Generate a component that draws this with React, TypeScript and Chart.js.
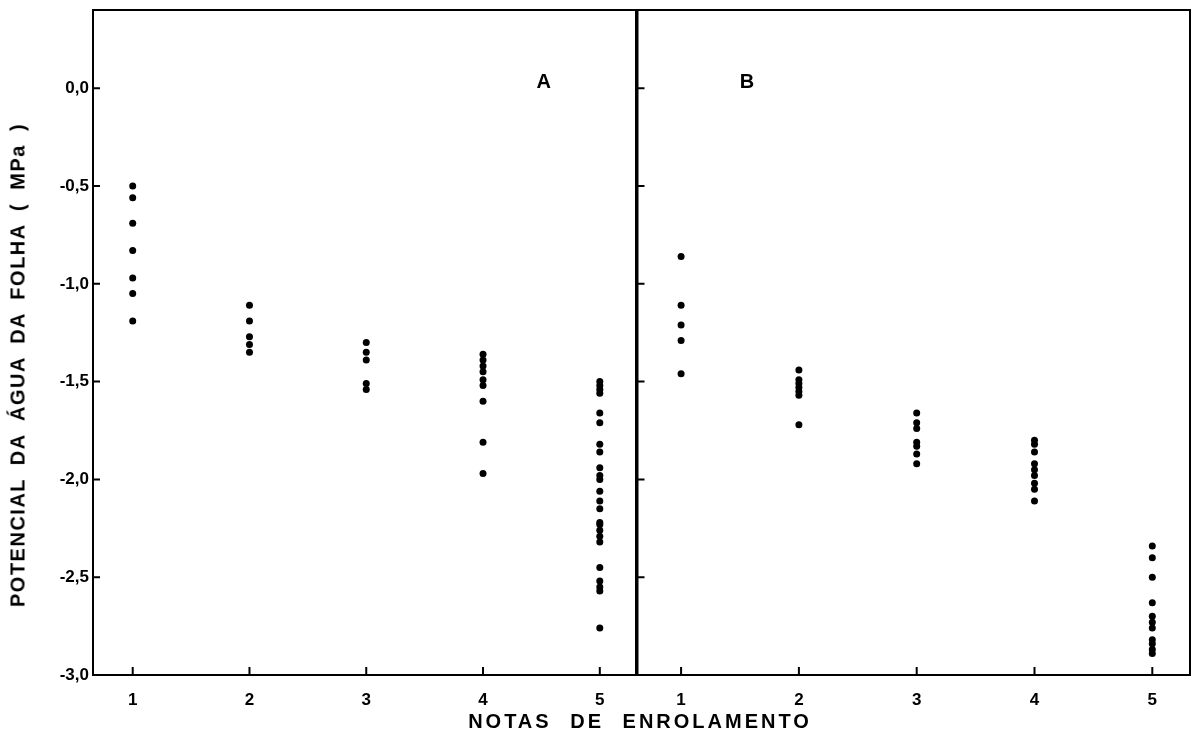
import React, { useEffect, useRef } from "react";
import { Chart, registerables } from "chart.js";

Chart.register(...registerables);

// Notas de enrolamento (x categories)
const notas = [1, 2, 3, 4, 5];
const yTickValues = [0, -0.5, -1.0, -1.5, -2.0, -2.5, -3.0];

// Panel A: leaf water potential (MPa) per rolling score
const a1 = [-0.50, -0.56, -0.69, -0.83, -0.97, -1.05, -1.19];
const a2 = [-1.11, -1.19, -1.27, -1.31, -1.35];
const a3 = [-1.30, -1.35, -1.39, -1.51, -1.54];
const a4 = [-1.36, -1.39, -1.42, -1.45, -1.49, -1.52, -1.60, -1.81, -1.97];
const a5 = [-1.50, -1.52, -1.54, -1.56, -1.66, -1.71, -1.82, -1.86, -1.94, -1.98, -2.00, -2.06, -2.11, -2.15, -2.22, -2.23, -2.26, -2.29, -2.32, -2.45, -2.52, -2.55, -2.57, -2.76];

// Panel B
const b1 = [-0.86, -1.11, -1.21, -1.29, -1.46];
const b2 = [-1.44, -1.49, -1.51, -1.53, -1.55, -1.57, -1.72];
const b3 = [-1.66, -1.71, -1.74, -1.81, -1.83, -1.87, -1.92];
const b4 = [-1.80, -1.82, -1.86, -1.92, -1.95, -1.98, -2.02, -2.05, -2.11];
const b5 = [-2.34, -2.40, -2.50, -2.63, -2.70, -2.73, -2.76, -2.82, -2.84, -2.87, -2.89];

const seriesA = [a1, a2, a3, a4, a5];
const seriesB = [b1, b2, b3, b4, b5];

const FONT = '"Liberation Sans", Arial, sans-serif';

function toPoints(groups: number[][]) {
  const pts: { x: number; y: number }[] = [];
  groups.forEach((vals, i) => vals.forEach((v) => pts.push({ x: notas[i], y: v })));
  return pts;
}

const fmt = (v: number) => {
  if (Math.abs(v) < 1e-9) return "0,0";
  return v.toFixed(1).replace(".", ",");
};

const framePlugin = {
  id: "frame",
  afterDraw(chart: any, _args: any, opts: any) {
    const { ctx, chartArea } = chart;
    const { left, right, top, bottom } = chartArea;
    const x = chart.scales.x;
    const y = chart.scales.y;
    ctx.save();
    ctx.strokeStyle = "#000";
    ctx.lineWidth = 2;
    ctx.strokeRect(left, top, right - left, bottom - top);
    ctx.beginPath();
    yTickValues.forEach((v) => {
      const py = y.getPixelForValue(v);
      if (py > top + 2 && py < bottom - 2) {
        ctx.moveTo(left, py);
        ctx.lineTo(left + 7, py);
      }
    });
    notas.forEach((v) => {
      const px = x.getPixelForValue(v);
      ctx.moveTo(px, bottom);
      ctx.lineTo(px, bottom - 8);
    });
    ctx.stroke();
    ctx.fillStyle = "#000";
    ctx.font = `bold 20px ${FONT}`;
    ctx.textAlign = "center";
    ctx.textBaseline = "middle";
    ctx.fillText(opts.label, x.getPixelForValue(opts.lx), y.getPixelForValue(opts.ly));
    ctx.restore();
  },
};

function makeConfig(groups: number[][], panel: "A" | "B") {
  const isA = panel === "A";
  return {
    type: "scatter" as const,
    data: {
      datasets: [
        {
          data: toPoints(groups),
          backgroundColor: "#000",
          borderColor: "#000",
          pointRadius: 3.5,
          pointHoverRadius: 3.5,
          borderWidth: 0,
        },
      ],
    },
    plugins: [framePlugin],
    options: {
      animation: false,
      responsive: false,
      maintainAspectRatio: false,
      events: [],
      layout: {
        padding: isA
          ? { left: 0, right: 4, top: 10, bottom: 0 }
          : { left: 2, right: 6, top: 10, bottom: 0 },
      },
      plugins: {
        legend: { display: false },
        tooltip: { enabled: false },
        frame: isA ? { label: "A", lx: 4.52, ly: 0.03 } : { label: "B", lx: 1.56, ly: 0.03 },
      },
      scales: {
        x: {
          type: "linear",
          min: isA ? 0.66 : 0.63,
          max: isA ? 5.31 : 5.32,
          grid: { display: false, drawTicks: false },
          border: { display: false },
          afterBuildTicks: (s: any) => {
            s.ticks = notas.map((v) => ({ value: v }));
          },
          afterFit: (s: any) => {
            s.height = 78;
            s.paddingLeft = 0;
            s.paddingRight = 0;
          },
          ticks: {
            color: "#000",
            padding: 15,
            font: { family: FONT, size: 17, weight: "bold" },
            callback: (v: any) => String(v),
            maxRotation: 0,
            autoSkip: false,
          },
        },
        y: {
          type: "linear",
          min: -3.0,
          max: 0.4,
          display: isA,
          grid: { display: false, drawTicks: false },
          border: { display: false },
          afterBuildTicks: (s: any) => {
            s.ticks = yTickValues.map((v) => ({ value: v }));
          },
          afterFit: (s: any) => {
            s.width = isA ? 93 : 0;
            s.paddingTop = 0;
            s.paddingBottom = 0;
          },
          ticks: {
            color: "#000",
            padding: 4,
            font: { family: FONT, size: 17, weight: "bold" },
            callback: (v: any) => fmt(Number(v)),
            autoSkip: false,
          },
        },
      },
    },
  };
}

export default function App() {
  const refA = useRef<HTMLCanvasElement | null>(null);
  const refB = useRef<HTMLCanvasElement | null>(null);

  useEffect(() => {
    const cA = new Chart(refA.current as HTMLCanvasElement, makeConfig(seriesA, "A") as any);
    const cB = new Chart(refB.current as HTMLCanvasElement, makeConfig(seriesB, "B") as any);
    return () => {
      cA.destroy();
      cB.destroy();
    };
  }, []);

  return (
    <div
      style={{
        position: "fixed",
        left: 0,
        top: 0,
        width: 1196,
        height: 753,
        background: "#fff",
        overflow: "hidden",
        fontFamily: FONT,
      }}
    >
      <canvas
        ref={refA}
        width={640}
        height={753}
        style={{ position: "absolute", left: 0, top: 0, width: 640, height: 753 }}
      />
      <canvas
        ref={refB}
        width={562}
        height={753}
        style={{ position: "absolute", left: 634, top: 0, width: 562, height: 753 }}
      />
      <div
        style={{
          position: "absolute",
          left: 18,
          top: 365,
          transform: "translate(-50%, -50%) rotate(-90deg)",
          whiteSpace: "nowrap",
          fontWeight: "bold",
          fontSize: 20,
          letterSpacing: "1.5px",
          wordSpacing: "6px",
          color: "#000",
        }}
      >
        POTENCIAL DA ÁGUA DA FOLHA ( MPa )
      </div>
      <div
        style={{
          position: "absolute",
          left: 640,
          top: 721,
          transform: "translate(-50%, -50%)",
          whiteSpace: "nowrap",
          fontWeight: "bold",
          fontSize: 20,
          letterSpacing: "3px",
          wordSpacing: "10px",
          color: "#000",
        }}
      >
        NOTAS DE ENROLAMENTO
      </div>
    </div>
  );
}
